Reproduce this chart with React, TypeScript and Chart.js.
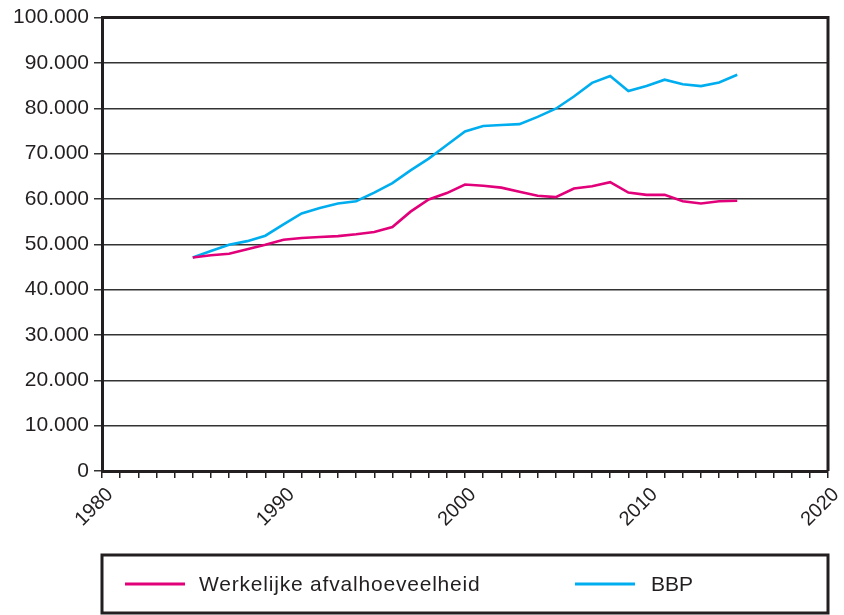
import React, { useEffect, useRef } from "react";
import { Chart, registerables } from "chart.js";

Chart.register(...registerables);

const years = [
  1985, 1986, 1987, 1988, 1989, 1990, 1991, 1992, 1993, 1994, 1995, 1996, 1997, 1998, 1999, 2000,
  2001, 2002, 2003, 2004, 2005, 2006, 2007, 2008, 2009, 2010, 2011, 2012, 2013, 2014, 2015,
];

const afval = [
  47100, 47600, 47900, 48900, 49900, 51000, 51400, 51600, 51800, 52200, 52700, 53800, 57200, 59900,
  61300, 63200, 62900, 62500, 61600, 60700, 60400, 62300, 62800, 63700, 61400, 60900, 60900, 59500,
  59000, 59500, 59600,
];

const bbp = [
  47100, 48500, 49900, 50700, 51900, 54400, 56800, 58000, 59000, 59500, 61400, 63500, 66300, 68900,
  71900, 74900, 76100, 76300, 76500, 78100, 79900, 82600, 85600, 87100, 83800, 84900, 86300, 85300,
  84900, 85700, 87400,
];

const seriesLabels = ["Werkelijke afvalhoeveelheid", "BBP"];
const seriesColors = ["#e2007a", "#00aeef"];
const xMin = 1980;
const xMax = 2020;
const yMin = 0;
const yMax = 100000;
const yStep = 10000;

const FONT = "'Liberation Sans', Arial, Helvetica, sans-serif";
const TEXT = "#231f20";
const DARK = "#231f20";

function fmt(v: number): string {
  return String(Math.round(v)).replace(/\B(?=(\d{3})+(?!\d))/g, ".");
}

const framePlugin = {
  id: "frame",
  afterDraw(chart: any) {
    const { ctx, chartArea } = chart;
    ctx.save();
    ctx.strokeStyle = DARK;
    ctx.lineWidth = 3;
    ctx.beginPath();
    ctx.moveTo(chartArea.left, chartArea.top);
    ctx.lineTo(chartArea.right, chartArea.top);
    ctx.lineTo(chartArea.right, chartArea.bottom);
    ctx.stroke();

    // legend box
    const boxTop = 555;
    const boxBottom = 613;
    ctx.lineWidth = 3;
    ctx.strokeRect(chartArea.left, boxTop, chartArea.right - chartArea.left, boxBottom - boxTop);
    const midY = (boxTop + boxBottom) / 2;
    const entries = [
      { lx: 125, tx: 199, sp: "0.8px" },
      { lx: 575, tx: 651, sp: "0px" },
    ];
    chart.data.datasets.forEach((ds: any, i: number) => {
      const e = entries[i];
      ctx.strokeStyle = ds.borderColor;
      ctx.lineWidth = 3;
      ctx.beginPath();
      ctx.moveTo(e.lx, midY);
      ctx.lineTo(e.lx + 60, midY);
      ctx.stroke();
      ctx.fillStyle = TEXT;
      ctx.font = `21px ${FONT}`;
      try {
        (ctx as any).letterSpacing = e.sp;
      } catch (err) {}
      ctx.textAlign = "left";
      ctx.textBaseline = "middle";
      ctx.fillText(ds.label, e.tx, midY + 1);
      try {
        (ctx as any).letterSpacing = "0px";
      } catch (err) {}
    });
    ctx.restore();
  },
};

export default function App() {
  const ref = useRef<HTMLCanvasElement | null>(null);

  useEffect(() => {
    if (!ref.current) return;
    const chart = new Chart(ref.current, {
      type: "line",
      data: {
        datasets: [afval, bbp].map((vals, i) => ({
          label: seriesLabels[i],
          data: years.map((y, j) => ({ x: y, y: vals[j] })),
          borderColor: seriesColors[i],
          backgroundColor: seriesColors[i],
          borderWidth: 2.6,
          pointRadius: 0,
          tension: 0,
          fill: false,
        })),
      },
      options: {
        animation: false,
        responsive: false,
        layout: { padding: { top: 17, right: 16, left: 0, bottom: 0 } },
        plugins: {
          legend: { display: false },
          tooltip: { enabled: false },
        },
        scales: {
          x: {
            type: "linear",
            min: xMin,
            max: xMax,
            afterFit(scale: any) {
              scale.height = 144;
              scale.paddingRight = 0;
              scale.paddingLeft = 0;
            },
            ticks: {
              stepSize: 1,
              autoSkip: false,
              minRotation: 45,
              maxRotation: 45,
              padding: 5,
              labelOffset: 8,
              color: TEXT,
              font: { family: FONT, size: 20 },
              callback: (v: any) => (Number(v) % 10 === 0 ? String(v) : ""),
            },
            grid: {
              drawOnChartArea: false,
              drawTicks: true,
              tickLength: 7,
              color: DARK,
              lineWidth: 1.5,
            },
            border: { display: true, color: DARK, width: 3 },
          },
          y: {
            min: yMin,
            max: yMax,
            afterFit(scale: any) {
              scale.width = 102;
            },
            ticks: {
              stepSize: yStep,
              padding: 5,
              color: TEXT,
              font: { family: FONT, size: 21 },
              callback: (v: any) => fmt(Number(v)),
            },
            grid: {
              drawOnChartArea: true,
              drawTicks: true,
              tickLength: 8,
              color: "#333333",
              lineWidth: 1.5,
            },
            border: { display: true, color: DARK, width: 3 },
          },
        },
      },
      plugins: [framePlugin],
    });
    return () => chart.destroy();
  }, []);

  return (
    <div style={{ position: "fixed", left: 0, top: 0, width: 844, height: 615, background: "#fff" }}>
      <canvas ref={ref} width={844} height={615} style={{ display: "block" }} />
    </div>
  );
}
